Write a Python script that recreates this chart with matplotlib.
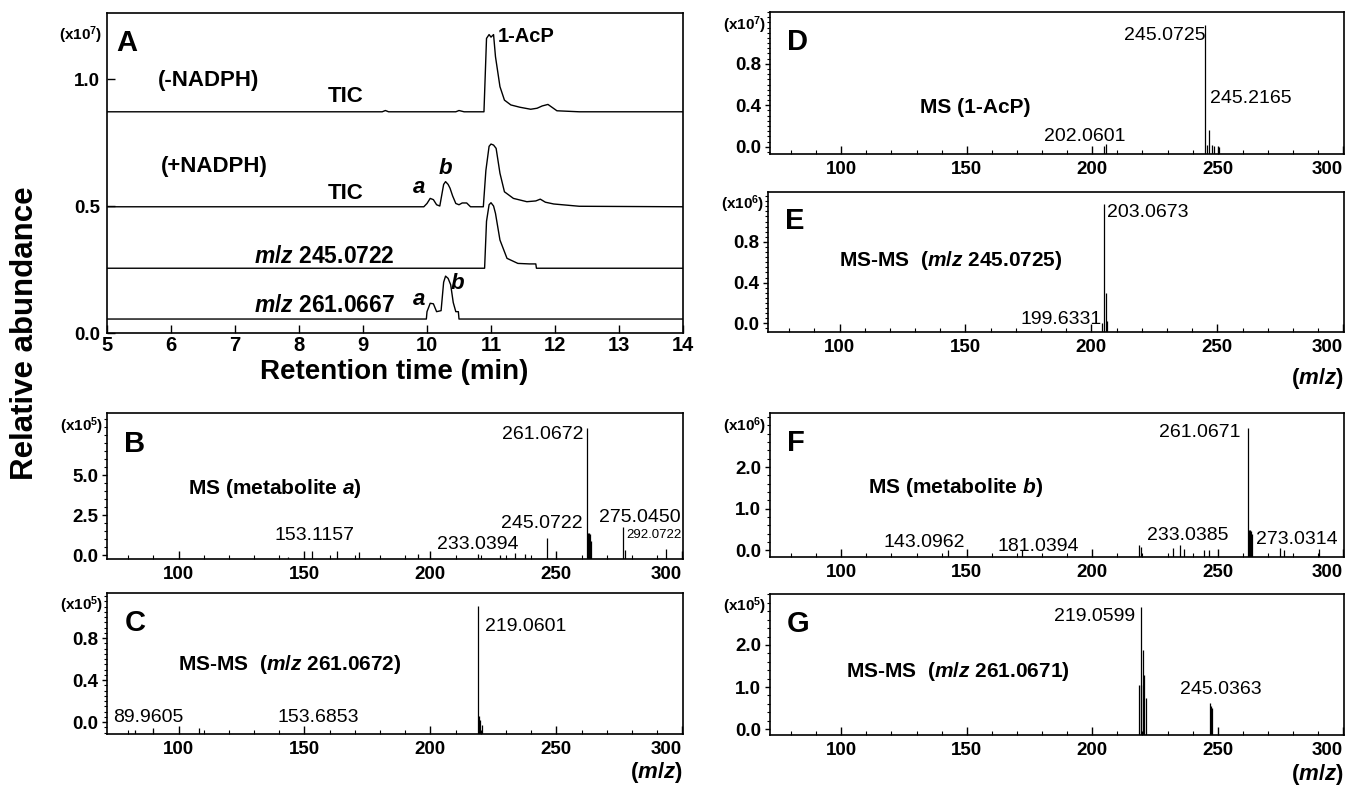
import matplotlib
matplotlib.use("Agg")
import matplotlib.pyplot as plt
from matplotlib.ticker import MultipleLocator, FormatStrFormatter

fam = "Liberation Sans"
plt.rcParams["font.family"] = [fam, "DejaVu Sans"]
plt.rcParams["mathtext.fontset"] = "custom"
plt.rcParams["mathtext.it"] = fam + ":italic:bold"
plt.rcParams["mathtext.rm"] = fam + ":bold"
plt.rcParams["mathtext.default"] = "regular"

# ---- panel A: chromatograms (retention time in min, abundance x10^7) ----
tic_minus_t = [5.0, 9.3, 9.35, 9.4, 10.45, 10.5, 10.58, 10.89, 10.93, 10.97, 11.0,
               11.04, 11.07, 11.14, 11.21, 11.31, 11.45, 11.62, 11.72, 11.8, 11.89,
               12.03, 12.38, 14.0]
tic_minus_y = [0.871, 0.871, 0.876, 0.871, 0.871, 0.876, 0.871, 0.871, 1.160, 1.175,
               1.165, 1.175, 1.088, 0.970, 0.917, 0.898, 0.889, 0.881, 0.885, 0.894,
               0.900, 0.875, 0.871, 0.871]

tic_plus_t = [5.0, 9.95, 10.0, 10.05, 10.1, 10.15, 10.2, 10.26, 10.29, 10.33, 10.36,
              10.4, 10.45, 10.5, 10.55, 10.62, 10.68, 10.88, 10.92, 10.97, 11.0, 11.04,
              11.08, 11.14, 11.21, 11.35, 11.56, 11.7, 11.77, 11.85, 11.98, 12.38, 14.0]
tic_plus_y = [0.497, 0.497, 0.510, 0.530, 0.525, 0.505, 0.500, 0.585, 0.596, 0.585,
              0.570, 0.540, 0.510, 0.505, 0.512, 0.512, 0.497, 0.497, 0.640, 0.735,
              0.744, 0.740, 0.727, 0.629, 0.556, 0.530, 0.517, 0.520, 0.527, 0.515,
              0.508, 0.499, 0.497]

eic245_t = [5.0, 10.9, 10.93, 10.97, 11.0, 11.04, 11.07, 11.14, 11.25, 11.42, 11.6,
            11.7, 11.71, 14.0]
eic245_y = [0.255, 0.255, 0.44, 0.505, 0.513, 0.50, 0.471, 0.366, 0.294, 0.274,
            0.272, 0.272, 0.255, 0.255]

eic261_t = [5.0, 9.99, 10.0, 10.05, 10.1, 10.15, 10.22, 10.26, 10.29, 10.33, 10.37,
            10.41, 10.45, 10.49, 10.5, 14.0]
eic261_y = [0.055, 0.055, 0.084, 0.117, 0.115, 0.084, 0.088, 0.200, 0.224, 0.215,
            0.190, 0.120, 0.084, 0.084, 0.055, 0.055]

# ---- mass spectra (m/z, intensity) ----
mz_b = [143.4, 153.1, 162.9, 171.7, 194.9, 218.9, 227.5, 233.5, 237.5, 246.3,
        262.0, 262.4, 262.8, 263.2, 263.6, 276.3, 277.1, 293.4]
int_b = [-0.1, 0.28, 0.28, 0.2, 0.05, 0.05, 0.0, 0.15, 0.05, 1.04,
         7.94, 1.39, 1.39, 1.3, 0.9, 1.77, 0.3, 0.38]

mz_c = [82.7, 89.8, 108.3, 218.9, 219.3, 219.7, 220.3]
int_c = [-0.08, -0.06, -0.06, 1.105, 0.06, 0.02, -0.03]

mz_d = [204.6, 205.6, 245.0, 245.6, 246.6, 247.6, 248.6, 250.5]
int_d = [0.01, 0.03, 1.17, 0.02, 0.16, 0.02, 0.01, 0.0]

mz_e = [204.4, 205.0, 205.7, 206.3]
int_e = [0.0, 1.17, 0.30, 0.02]

mz_f = [142.6, 171.9, 218.8, 219.3, 232.3, 234.8, 236.5, 244.5, 246.5, 262.0,
        262.4, 262.8, 263.2, 263.6, 274.8, 276.5, 290.3]
int_f = [0.0, 0.0, 0.12, 0.08, 0.06, 0.14, 0.03, 0.02, 0.02, 2.95,
         0.48, 0.48, 0.46, 0.4, 0.05, 0.02, 0.03]

mz_g = [218.8, 219.3, 219.6, 220.1, 220.6, 221.4, 247.0, 247.5, 247.8]
int_g = [1.05, 1.05, 2.91, 1.88, 1.29, 0.75, 0.62, 0.55, 0.50]

mz_ticks = [100, 150, 200, 250, 300]


W, H = 1352, 787
fig = plt.figure(figsize=(W / 100, H / 100), dpi=100)


def box(l, t, r, b):
    return [l / W, 1 - b / H, (r - l) / W, (b - t) / H]


def frame(ax):
    for s in ax.spines.values():
        s.set_linewidth(1.2)


# ---------------- A ----------------
axA = fig.add_axes(box(107, 13, 683, 333))
frame(axA)
for t, y in [(tic_minus_t, tic_minus_y), (tic_plus_t, tic_plus_y),
             (eic245_t, eic245_y), (eic261_t, eic261_y)]:
    axA.plot(t, y, color="black", lw=1.0)
axA.set_xlim(5, 14)
axA.set_ylim(0, 1.26)
axA.set_xticks(range(5, 15))
axA.set_yticks([0.0, 0.5, 1.0])
axA.yaxis.set_major_formatter(FormatStrFormatter("%.1f"))
axA.tick_params(axis="x", direction="in", length=6, width=1, pad=2.5, labelsize=14.5)
axA.tick_params(axis="y", direction="in", length=6, width=1, pad=5, labelsize=13.5)
for lab in axA.get_xticklabels() + axA.get_yticklabels():
    lab.set_fontweight("bold")

axA.text(5.15, 1.14, "A", fontsize=21, fontweight="bold", va="center")
axA.text(-0.008, 0.93, "(x10$^{7}$)", transform=axA.transAxes, ha="right",
         va="center", fontsize=11, fontweight="bold")
axA.text(5.8, 0.996, "(-NADPH)", fontsize=16, fontweight="bold", va="center")
axA.text(8.73, 0.93, "TIC", fontsize=16, fontweight="bold", va="center", ha="center")
axA.text(11.1, 1.167, "1-AcP", fontsize=14.5, fontweight="bold", va="center")
axA.text(5.84, 0.655, "(+NADPH)", fontsize=16, fontweight="bold", va="center")
axA.text(8.73, 0.551, "TIC", fontsize=16, fontweight="bold", va="center", ha="center")
axA.text(9.88, 0.571, "a", fontsize=16, fontweight="bold", style="italic",
         va="center", ha="center")
axA.text(10.29, 0.648, "b", fontsize=16, fontweight="bold", style="italic",
         va="center", ha="center")
axA.text(9.5, 0.300, "$\\mathit{m/z}$ 245.0722", fontsize=16.5, fontweight="bold",
         va="center", ha="right")
axA.text(9.5, 0.110, "$\\mathit{m/z}$ 261.0667", fontsize=16.5, fontweight="bold",
         va="center", ha="right")
axA.text(9.88, 0.130, "a", fontsize=16, fontweight="bold", style="italic",
         va="center", ha="center")
axA.text(10.48, 0.196, "b", fontsize=16, fontweight="bold", style="italic",
         va="center", ha="center")

fig.text(394 / W, 1 - 372 / H, "Retention time (min)", fontsize=20,
         fontweight="bold", ha="center", va="center")
fig.text(25 / W, 1 - 333 / H, "Relative abundance", fontsize=22.5, fontweight="bold",
         rotation=90, ha="center", va="center")


# ---------------- spectra ----------------
def spectrum(rect, mz, ab, ylim, ticks, minor, letter, scale, title, tx, ty,
             tha="left", mzlabel=None):
    ax = fig.add_axes(rect)
    frame(ax)
    ax.vlines(mz, ylim[0], ab, colors="black", lw=0.9)
    ax.set_xlim(71.6, 300.3)
    ax.set_ylim(*ylim)
    ax.set_xticks(mz_ticks)
    ax.xaxis.set_minor_locator(MultipleLocator(10))
    ax.set_yticks(ticks)
    ax.yaxis.set_minor_locator(MultipleLocator(minor))
    ax.yaxis.set_major_formatter(FormatStrFormatter("%.1f"))
    ax.tick_params(axis="x", which="major", direction="in", length=6, width=1,
                   pad=5, labelsize=13.5)
    ax.tick_params(axis="x", which="minor", direction="in", length=3, width=0.8)
    ax.tick_params(axis="y", which="major", direction="out", length=3.5, width=1,
                   pad=3, labelsize=13.5)
    ax.tick_params(axis="y", which="minor", direction="out", length=2.2, width=0.8)
    for lab in ax.get_xticklabels() + ax.get_yticklabels():
        lab.set_fontweight("bold")
    # the last m/z label sits flush with the right frame
    ax.xaxis.get_major_ticks()[-1].label1.set_horizontalalignment("right")
    ax.text(0.03, 0.79, letter, transform=ax.transAxes, fontsize=21,
            fontweight="bold", va="center")
    ax.text(-0.006, 0.91, "(x10$^{%d}$)" % scale, transform=ax.transAxes,
            ha="right", va="center", fontsize=11, fontweight="bold")
    ax.text(tx, ty, title, transform=ax.transAxes, fontsize=15, fontweight="bold",
            va="center", ha=tha)
    if mzlabel is not None:
        ax.text(1.0, mzlabel, "($\\mathit{m/z}$)", transform=ax.transAxes,
                ha="right", va="center", fontsize=16, fontweight="bold")
    return ax


def peak_label(ax, x, y, s, ha="center", size=14):
    ax.text(x, y, s, fontsize=size, ha=ha, va="center")


axB = spectrum(box(107, 413, 683, 559), mz_b, int_b, (-0.25, 8.9), [0.0, 2.5, 5.0],
               0.5, "B", 5, "MS (metabolite $\\mathit{a}$)", 0.14, 0.48)
peak_label(axB, 260.6, 7.56, "261.0672", ha="right")
peak_label(axB, 267.0, 2.38, "275.0450", ha="left")
peak_label(axB, 277.6, 1.25, "292.0722", ha="left", size=9.5)
peak_label(axB, 260.6, 2.0, "245.0722", ha="right")
peak_label(axB, 219.0, 0.69, "233.0394")
peak_label(axB, 154.0, 1.25, "153.1157")

axC = spectrum(box(107, 593, 683, 734), mz_c, int_c, (-0.114, 1.23), [0.0, 0.4, 0.8],
               0.05, "C", 5, "MS-MS  ($\\mathit{m/z}$ 261.0672)", 0.123, 0.49,
               mzlabel=-0.27)
peak_label(axC, 221.5, 0.91, "219.0601", ha="left")
peak_label(axC, 74.2, 0.04, "89.9605", ha="left")
peak_label(axC, 155.6, 0.04, "153.6853")

axD = spectrum(box(770, 12, 1344, 154), mz_d, int_d, (-0.07, 1.30), [0.0, 0.4, 0.8],
               0.05, "D", 7, "MS (1-AcP)", 0.357, 0.33, tha="center")
peak_label(axD, 245.0, 1.07, "245.0725", ha="right")
peak_label(axD, 247.0, 0.47, "245.2165", ha="left")
peak_label(axD, 197.1, 0.10, "202.0601")

axE = spectrum(box(768, 192, 1344, 332), mz_e, int_e, (-0.085, 1.29), [0.0, 0.4, 0.8],
               0.05, "E", 6, "MS-MS  ($\\mathit{m/z}$ 245.0725)", 0.317, 0.51,
               tha="center", mzlabel=-0.33)
peak_label(axE, 206.2, 1.09, "203.0673", ha="left")
peak_label(axE, 204.2, 0.04, "199.6331", ha="right")

axF = spectrum(box(770, 413, 1344, 557), mz_f, int_f, (-0.16, 3.30), [0.0, 1.0, 2.0],
               0.2, "F", 6, "MS (metabolite $\\mathit{b}$)", 0.17, 0.48)
peak_label(axF, 259.1, 2.82, "261.0671", ha="right")
peak_label(axF, 265.2, 0.27, "273.0314", ha="left")
peak_label(axF, 237.9, 0.36, "233.0385")
peak_label(axF, 178.4, 0.10, "181.0394")
peak_label(axF, 133.0, 0.19, "143.0962")

axG = spectrum(box(770, 594, 1344, 735), mz_g, int_g, (-0.14, 3.21), [0.0, 1.0, 2.0],
               0.2, "G", 5, "MS-MS  ($\\mathit{m/z}$ 261.0671)", 0.132, 0.45,
               mzlabel=-0.28)
peak_label(axG, 217.1, 2.67, "219.0599", ha="right")
peak_label(axG, 251.1, 0.95, "245.0363")

fig.savefig("out.png", dpi=100)
